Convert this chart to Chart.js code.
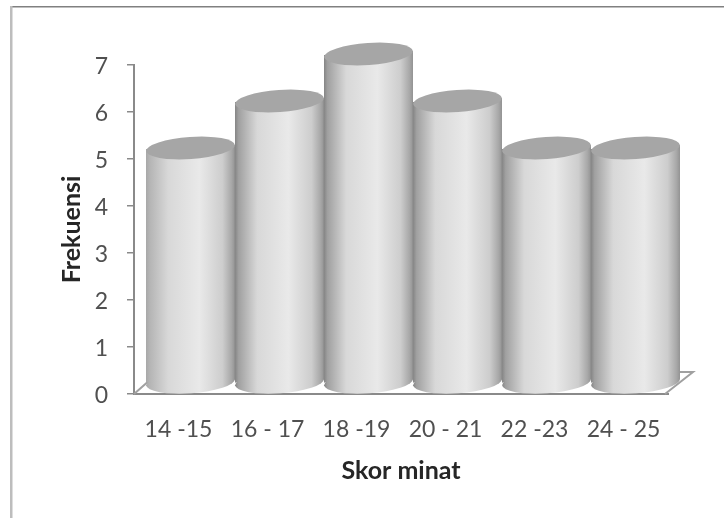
<!DOCTYPE html>
<html>
<head>
<meta charset="utf-8">
<title>Skor minat</title>
<script src="https://cdn.jsdelivr.net/npm/chart.js@4"></script>
<style>
  html, body { margin: 0; padding: 0; background: #fff; }
  #wrap { position: relative; width: 724px; height: 518px; }
</style>
</head>
<body>
<div id="wrap"><canvas id="chart-frekuensi"></canvas></div>
<script>
const categories = ["14 -15", "16 - 17", "18 -19", "20 - 21", "22 -23", "24 - 25"];
const frekuensi = [5, 6, 7, 6, 5, 5];
const yTicks = [0, 1, 2, 3, 4, 5, 6, 7];

// 3D look: the columns stand further back on the floor than the axes
const DEPTH_X = 12;
const DEPTH_Y = 11;
const FLOOR_X = 25;
const FLOOR_Y = 22;
const ELLIPSE_RY = 11;
const ELLIPSE_TILT = -0.07;

const canvas = document.getElementById("chart-frekuensi");

// Horizontal shading of one cylinder, the first one has a softer left edge
function cylinderFill(ctx) {
  const chart = ctx.chart;
  const x = chart.scales.x;
  if (!x || !x.width) return "#cccccc";
  const w = x.width / categories.length;
  const left = x.getPixelForValue(ctx.dataIndex) - w / 2;
  const g = chart.ctx.createLinearGradient(left, 0, left + w, 0);
  g.addColorStop(0, ctx.dataIndex === 0 ? "#a8a8a8" : "#858585");
  g.addColorStop(0.04, ctx.dataIndex === 0 ? "#b4b4b4" : "#a0a0a0");
  g.addColorStop(0.25, "#d8d8d8");
  g.addColorStop(0.6, "#e9e9e9");
  g.addColorStop(0.86, "#cdcdcd");
  g.addColorStop(0.96, "#a8a8a8");
  g.addColorStop(1, "#939393");
  return g;
}

function ellipse(c, cx, cy, rx, fill) {
  c.beginPath();
  c.ellipse(cx, cy, rx, ELLIPSE_RY, ELLIPSE_TILT, 0, Math.PI * 2);
  c.fillStyle = fill;
  c.fill();
}

// Frame of the chart area, only top and left edges show
const framePlugin = {
  id: "frame",
  beforeDraw(chart) {
    const c = chart.ctx;
    c.save();
    c.fillStyle = "#808080";
    c.fillRect(10, 6, 714, 1.5);
    c.fillStyle = "#bdbdbd";
    c.fillRect(10, 6, 2.5, 512);
    c.restore();
  },
};

// Floor outline, then shift the columns back and draw their round ends
const cylinderPlugin = {
  id: "cylinder",
  beforeDatasetsDraw(chart) {
    const c = chart.ctx;
    const y0 = chart.scales.y.getPixelForValue(0);
    const l = chart.chartArea.left;
    const r = chart.chartArea.right;
    c.save();
    c.strokeStyle = "#a0a0a0";
    c.lineWidth = 2;
    c.beginPath();
    c.moveTo(l, y0);
    c.lineTo(l + FLOOR_X, y0 - FLOOR_Y);
    c.lineTo(r + FLOOR_X, y0 - FLOOR_Y);
    c.lineTo(r - 3, y0);
    c.stroke();
    c.restore();

    c.save();
    c.translate(DEPTH_X, -DEPTH_Y);
    const bars = chart.getDatasetMeta(0).data;
    const slant = (bars[0].width / 2) * Math.sin(-ELLIPSE_TILT);
    // bottom ends and the sliver under the tilted top edge
    bars.forEach((bar) => {
      const fill = bar.options.backgroundColor;
      const rx = bar.width / 2;
      ellipse(c, bar.x, bar.base, rx, fill);
      c.beginPath();
      c.moveTo(bar.x - rx, bar.y + slant);
      c.lineTo(bar.x + rx, bar.y - slant);
      c.lineTo(bar.x + rx, bar.y + 1);
      c.lineTo(bar.x - rx, bar.y + 1);
      c.closePath();
      c.fillStyle = fill;
      c.fill();
    });
    // cut the square corners of the bars along the same tilt
    c.beginPath();
    bars.forEach((bar) => {
      const rx = bar.width / 2;
      c.moveTo(bar.x - rx, bar.y + slant);
      c.lineTo(bar.x + rx, bar.y - slant);
      c.lineTo(bar.x + rx, bar.base - slant);
      c.lineTo(bar.x - rx, bar.base + slant);
      c.closePath();
    });
    c.clip();
  },
  afterDatasetsDraw(chart) {
    const c = chart.ctx;
    c.restore();
    c.save();
    c.translate(DEPTH_X, -DEPTH_Y);
    chart.getDatasetMeta(0).data.forEach((bar) => {
      ellipse(c, bar.x, bar.y, bar.width / 2, "#a6a6a6");
    });
    c.restore();
  },
};

new Chart(canvas, {
  type: "bar",
  data: {
    labels: categories,
    datasets: [
      {
        label: "Frekuensi",
        data: frekuensi,
        backgroundColor: cylinderFill,
        borderWidth: 0,
        barPercentage: 1,
        categoryPercentage: 1,
        clip: false,
      },
    ],
  },
  plugins: [framePlugin, cylinderPlugin],
  options: {
    responsive: true,
    maintainAspectRatio: false,
    animation: false,
    layout: { padding: { left: 57, top: 65, right: 56, bottom: 32 } },
    plugins: { legend: { display: false }, tooltip: { enabled: false } },
    scales: {
      x: {
        grid: { display: false },
        border: { color: "#8a8a8a", width: 2 },
        ticks: {
          color: "#505050",
          padding: 14,
          maxRotation: 0,
          font: { family: "Lato", size: 23 },
        },
        title: {
          display: true,
          text: "Skor minat",
          color: "#262626",
          padding: 0,
          font: { family: "Lato", size: 25, weight: "bold" },
        },
        afterFit: (scale) => {
          scale.height = 92;
        },
      },
      y: {
        min: 0,
        max: 7,
        afterBuildTicks: (scale) => {
          scale.ticks = yTicks.map((value) => ({ value }));
        },
        grid: { drawOnChartArea: false, color: "#8a8a8a", tickLength: 7, lineWidth: 1.5 },
        border: { color: "#8a8a8a", width: 2 },
        ticks: {
          color: "#505050",
          padding: 19,
          labelOffset: 2,
          font: { family: "Lato", size: 23 },
        },
        title: {
          display: true,
          text: "Frekuensi",
          color: "#262626",
          padding: 0,
          font: { family: "Lato", size: 25, weight: "bold" },
        },
        afterFit: (scale) => {
          scale.width = 77;
        },
      },
    },
  },
});
</script>
</body>
</html>
